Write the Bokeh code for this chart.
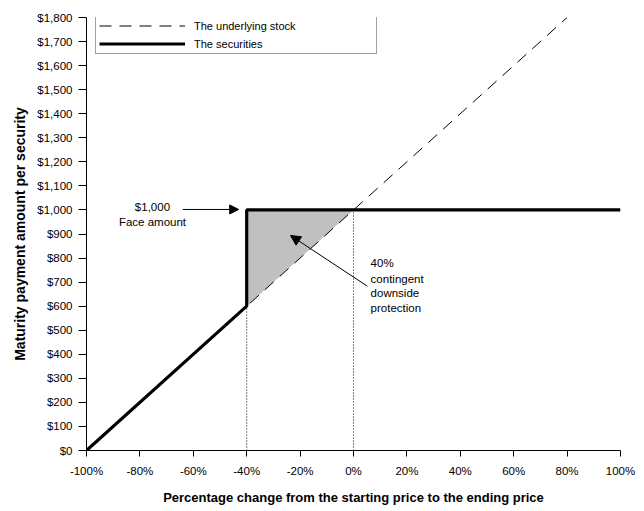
from bokeh.plotting import figure
from bokeh.models import (Range1d, FixedTicker, Legend, LegendItem, Arrow, NormalHead,
                          Label)
from bokeh.embed import file_html
from bokeh.resources import INLINE

# ---- data ----
x_ticks = [-100, -80, -60, -40, -20, 0, 20, 40, 60, 80, 100]
x_tick_labels = ["-100%", "-80%", "-60%", "-40%", "-20%", "0%", "20%", "40%", "60%", "80%", "100%"]
y_ticks = list(range(0, 1900, 100))
y_tick_labels = ["$0", "$100", "$200", "$300", "$400", "$500", "$600", "$700", "$800", "$900",
                 "$1,000", "$1,100", "$1,200", "$1,300", "$1,400", "$1,500", "$1,600", "$1,700", "$1,800"]

stock_x = [-100, 80]
stock_y = [0, 1800]
sec_x = [-100, -40, -40, 100]
sec_y = [0, 600, 1000, 1000]
shade_x = [-40, -40, 0]
shade_y = [600, 1000, 1000]
guide1_x = [-40, -40]
guide1_y = [0, 600]
guide2_x = [0, 0]
guide2_y = [0, 1000]

FONT = "Liberation Sans"

p = figure(width=640, height=508, output_backend="svg", toolbar_location=None,
           x_range=Range1d(-100, 100), y_range=Range1d(0, 1800),
           min_border_left=86, min_border_right=20, min_border_top=17, min_border_bottom=58)
p.outline_line_color = None
p.xgrid.visible = False
p.ygrid.visible = False
p.background_fill_color = "white"
p.border_fill_color = "white"

# shaded protection region
p.patch(shade_x, shade_y, fill_color="#c0c0c0", line_color=None)

# guide lines
p.line(guide1_x, guide1_y, line_color="black", line_width=1, line_dash="1 2")
p.line(guide2_x, guide2_y, line_color="black", line_width=1, line_dash="1 2")

r_stock = p.line(stock_x, stock_y, line_color="black", line_width=1, line_dash="12 8")
r_sec = p.line(sec_x, sec_y, line_color="black", line_width=3.2)

legend = Legend(items=[LegendItem(label="The underlying stock", renderers=[r_stock]),
                       LegendItem(label="The securities", renderers=[r_sec])],
                location=(9, 396), orientation="vertical")
legend.border_line_color = "#444444"
legend.border_line_width = 1
legend.background_fill_alpha = 1
legend.padding = 3
legend.margin = 0
legend.spacing = 5
legend.glyph_width = 86
legend.glyph_height = 13
legend.label_height = 13
legend.label_width = 179
legend.label_standoff = 9
legend.label_text_font = FONT
legend.label_text_font_size = "11px"
legend.label_text_color = "black"
p.add_layout(legend, "center")

# axes
for ax in (p.xaxis, p.yaxis):
    ax.axis_line_color = "black"
    ax.axis_line_width = 1
    ax.major_tick_line_color = "black"
    ax.major_tick_in = 0
    ax.minor_tick_line_color = None
    ax.major_label_text_font = FONT
    ax.major_label_text_font_size = "11.5px"
    ax.major_label_text_color = "black"
    ax.axis_label_text_font = FONT
    ax.axis_label_text_font_style = "bold"
    ax.axis_label_text_color = "black"

p.xaxis.ticker = FixedTicker(ticks=x_ticks)
p.xaxis.major_label_overrides = dict(zip(x_ticks, x_tick_labels))
p.xaxis.major_tick_out = 6
p.xaxis.major_label_standoff = 8
p.xaxis.axis_label = "Percentage change from the starting price to the ending price"
p.xaxis.axis_label_text_font_size = "13px"
p.xaxis.axis_label_standoff = 10

p.yaxis.ticker = FixedTicker(ticks=y_ticks)
p.yaxis.major_label_overrides = dict(zip(y_ticks, y_tick_labels))
p.yaxis.major_tick_out = 8
p.yaxis.major_label_standoff = 6
p.yaxis.axis_label = "Maturity payment amount per security"
p.yaxis.axis_label_text_font_size = "14px"
p.yaxis.axis_label_standoff = 6

# annotations
for txt, yy in (("$1,000", 1014), ("Face amount", 948)):
    p.add_layout(Label(x=-75.3, y=yy, text=txt, text_align="center", text_baseline="middle",
                       text_font=FONT, text_font_size="11.5px", text_color="black"))

p.add_layout(Arrow(x_start=-64, y_start=1002, x_end=-43, y_end=1002, line_color="black",
                   line_width=1, end=NormalHead(size=9, fill_color="black", line_color="black")))

for txt, yy in (("40%", 781), ("contingent", 715), ("downside", 653), ("protection", 594)):
    p.add_layout(Label(x=6.4, y=yy, text=txt, text_align="left", text_baseline="middle",
                       text_font=FONT, text_font_size="11.5px", text_color="black"))

p.add_layout(Arrow(x_start=5.2, y_start=683, x_end=-23.6, y_end=894, line_color="black",
                   line_width=1, end=NormalHead(size=10, fill_color="black", line_color="black")))

open("out.html", "w").write(file_html(p, INLINE))
